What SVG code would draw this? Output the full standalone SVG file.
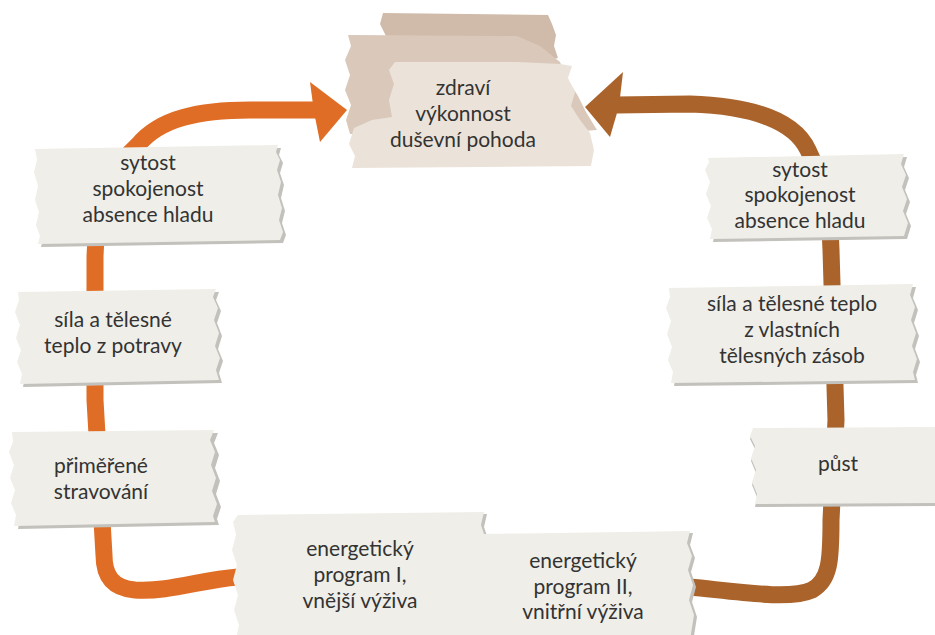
<svg xmlns="http://www.w3.org/2000/svg" width="935" height="635" viewBox="0 0 935 635">
<style>
.paper{fill:#efeee8}
.shadow{fill:#c3c1bc}
.lbl{font-family:Lato,"Open Sans","Liberation Sans",sans-serif;font-size:21px;fill:#333333;text-anchor:middle}
.c1{fill:none;stroke:#e06d25;stroke-width:17;stroke-linecap:butt;stroke-linejoin:round}
.c2{fill:none;stroke:#a9632b;stroke-width:17;stroke-linecap:butt;stroke-linejoin:round}
.h1{fill:#e06d25}
.h2{fill:#a9632b}
</style>
<rect width="935" height="635" fill="#ffffff"/>
<g id="connectors">
  <path class="c1" d="M 238 577 C 200 580 170 592 135 590 C 112 588 104 575 104 555 L 95 400 L 95 260 C 95 200 115 165 138 145 C 160 118 200 110 250 110 L 316 110"/>
  <polygon class="h1" points="310,82 347,110 320,142 314,112"/>
  <path class="c2" d="M 690 587 C 740 592 790 600 812 590 C 830 580 831 560 831 520 L 836 420 L 831 250 C 830 200 818 170 808 150 C 795 122 755 106 690 104 L 616 105"/>
  <polygon class="h2" points="623,72 585,107 610,137 619,106"/>
</g>
<g id="n-top">
  <path fill="#d0baa9" d="M383,13 L548,15 L552,24 L556,35 L554,46 L558,58 L540,62 L385,60 L381,48 L386,36 L380,24 Z"/>
  <path fill="#dac9bb" d="M348,35 L517,36 L540,46 L560,62 L568,80 L578,96 L586,112 L597,130 L545,134 L350,134 L346,120 L351,105 L345,90 L350,75 L345,60 L351,46 Z"/>
  <path fill="#ebe3d9" d="M395,62 L517,62 L560,64 L572,66 L568,78 L575,92 L571,106 L580,120 L590,133 L594,150 L591,166 L352,168 L355,156 L349,144 L354,128 L372,120 L392,117 L389,100 L394,84 L389,70 Z"/>
  <text class="lbl" x="463" y="95">zdraví</text>
  <text class="lbl" x="463" y="121">výkonnost</text>
  <text class="lbl" x="463" y="147">duševní pohoda</text>
</g>
<g id="n-l-sytost">
  <path class="shadow" transform="translate(3,3)" d="M35,149 L278,145 L276,152 L280,160 L277,170 L281,182 L278,195 L282,208 L279,220 L283,232 L280,240 L38,244 L40,236 L36,225 L39,212 L35,200 L38,186 L34,172 L37,160 Z"/>
  <path class="paper" d="M35,149 L278,145 L276,152 L280,160 L277,170 L281,182 L278,195 L282,208 L279,220 L283,232 L280,240 L38,244 L40,236 L36,225 L39,212 L35,200 L38,186 L34,172 L37,160 Z"/>
  <text class="lbl" x="148" y="170">sytost</text>
  <text class="lbl" x="148" y="196">spokojenost</text>
  <text class="lbl" x="148" y="222">absence hladu</text>
</g>
<g id="n-l-sila">
  <path class="shadow" transform="translate(3,3)" d="M18,292 L216,289 L213,297 L218,308 L214,320 L219,333 L215,346 L220,358 L216,370 L219,380 L20,384 L22,374 L17,362 L21,350 L16,338 L20,325 L15,312 L19,300 Z"/>
  <path class="paper" d="M18,292 L216,289 L213,297 L218,308 L214,320 L219,333 L215,346 L220,358 L216,370 L219,380 L20,384 L22,374 L17,362 L21,350 L16,338 L20,325 L15,312 L19,300 Z"/>
  <text class="lbl" x="113" y="327">síla a tělesné</text>
  <text class="lbl" x="113" y="353">teplo z potravy</text>
</g>
<g id="n-l-primerene">
  <path class="shadow" transform="translate(4,3)" d="M12,432 L214,430 L210,440 L215,452 L211,465 L216,478 L212,491 L217,504 L213,516 L215,522 L14,526 L16,515 L11,503 L15,490 L10,478 L14,465 L9,452 L13,442 Z"/>
  <path class="paper" d="M12,432 L214,430 L210,440 L215,452 L211,465 L216,478 L212,491 L217,504 L213,516 L215,522 L14,526 L16,515 L11,503 L15,490 L10,478 L14,465 L9,452 L13,442 Z"/>
  <text class="lbl" x="101" y="473">přiměřené</text>
  <text class="lbl" x="101" y="499">stravování</text>
</g>
<g id="n-prog1">
  <path class="shadow" transform="translate(3,2)" d="M238,515 L484,512 L481,525 L486,540 L482,556 L487,572 L483,588 L488,604 L484,620 L487,640 L236,640 L239,625 L234,610 L238,595 L233,580 L237,565 L232,550 L236,535 L233,522 Z"/>
  <path class="paper" d="M238,515 L484,512 L481,525 L486,540 L482,556 L487,572 L483,588 L488,604 L484,620 L487,640 L236,640 L239,625 L234,610 L238,595 L233,580 L237,565 L232,550 L236,535 L233,522 Z"/>
  <text class="lbl" x="360" y="556">energetický</text>
  <text class="lbl" x="360" y="582">program I,</text>
  <text class="lbl" x="360" y="608">vnější výživa</text>
</g>
<g id="n-prog2">
  <path class="shadow" transform="translate(3,2)" d="M483,534 L690,531 L687,543 L692,556 L688,570 L693,585 L689,600 L694,615 L690,640 L481,640 L484,625 L480,610 L484,595 L479,580 L483,565 L478,550 L482,540 Z"/>
  <path class="paper" d="M483,534 L690,531 L687,543 L692,556 L688,570 L693,585 L689,600 L694,615 L690,640 L481,640 L484,625 L480,610 L484,595 L479,580 L483,565 L478,550 L482,540 Z"/>
  <text class="lbl" x="583" y="568">energetický</text>
  <text class="lbl" x="583" y="594">program II,</text>
  <text class="lbl" x="583" y="619">vnitřní výživa</text>
</g>
<g id="n-r-sytost">
  <path class="shadow" transform="translate(3,3)" d="M708,158 L904,154 L901,164 L906,175 L902,187 L907,199 L903,211 L908,223 L904,236 L710,239 L712,229 L707,218 L711,206 L706,194 L710,182 L705,170 L709,162 Z"/>
  <path class="paper" d="M708,158 L904,154 L901,164 L906,175 L902,187 L907,199 L903,211 L908,223 L904,236 L710,239 L712,229 L707,218 L711,206 L706,194 L710,182 L705,170 L709,162 Z"/>
  <text class="lbl" x="800" y="177">sytost</text>
  <text class="lbl" x="800" y="202">spokojenost</text>
  <text class="lbl" x="800" y="228">absence hladu</text>
</g>
<g id="n-r-sila">
  <path class="shadow" transform="translate(3,3)" d="M669,288 L913,284 L910,295 L915,307 L911,320 L916,333 L912,346 L917,359 L913,372 L915,380 L671,383 L673,372 L668,360 L672,347 L667,334 L671,321 L666,308 L670,297 Z"/>
  <path class="paper" d="M669,288 L913,284 L910,295 L915,307 L911,320 L916,333 L912,346 L917,359 L913,372 L915,380 L671,383 L673,372 L668,360 L672,347 L667,334 L671,321 L666,308 L670,297 Z"/>
  <text class="lbl" x="792" y="311">síla a tělesné teplo</text>
  <text class="lbl" x="792" y="337">z vlastních</text>
  <text class="lbl" x="792" y="363">tělesných zásob</text>
</g>
<g id="n-r-pust">
  <path class="shadow" transform="translate(0,3)" d="M753,428 L935,427 L935,503 L755,504 L757,494 L752,482 L756,470 L751,458 L755,446 L750,436 Z"/>
  <path class="paper" d="M753,428 L935,427 L935,503 L755,504 L757,494 L752,482 L756,470 L751,458 L755,446 L750,436 Z"/>
  <text class="lbl" x="838" y="471">půst</text>
</g>
</svg>
